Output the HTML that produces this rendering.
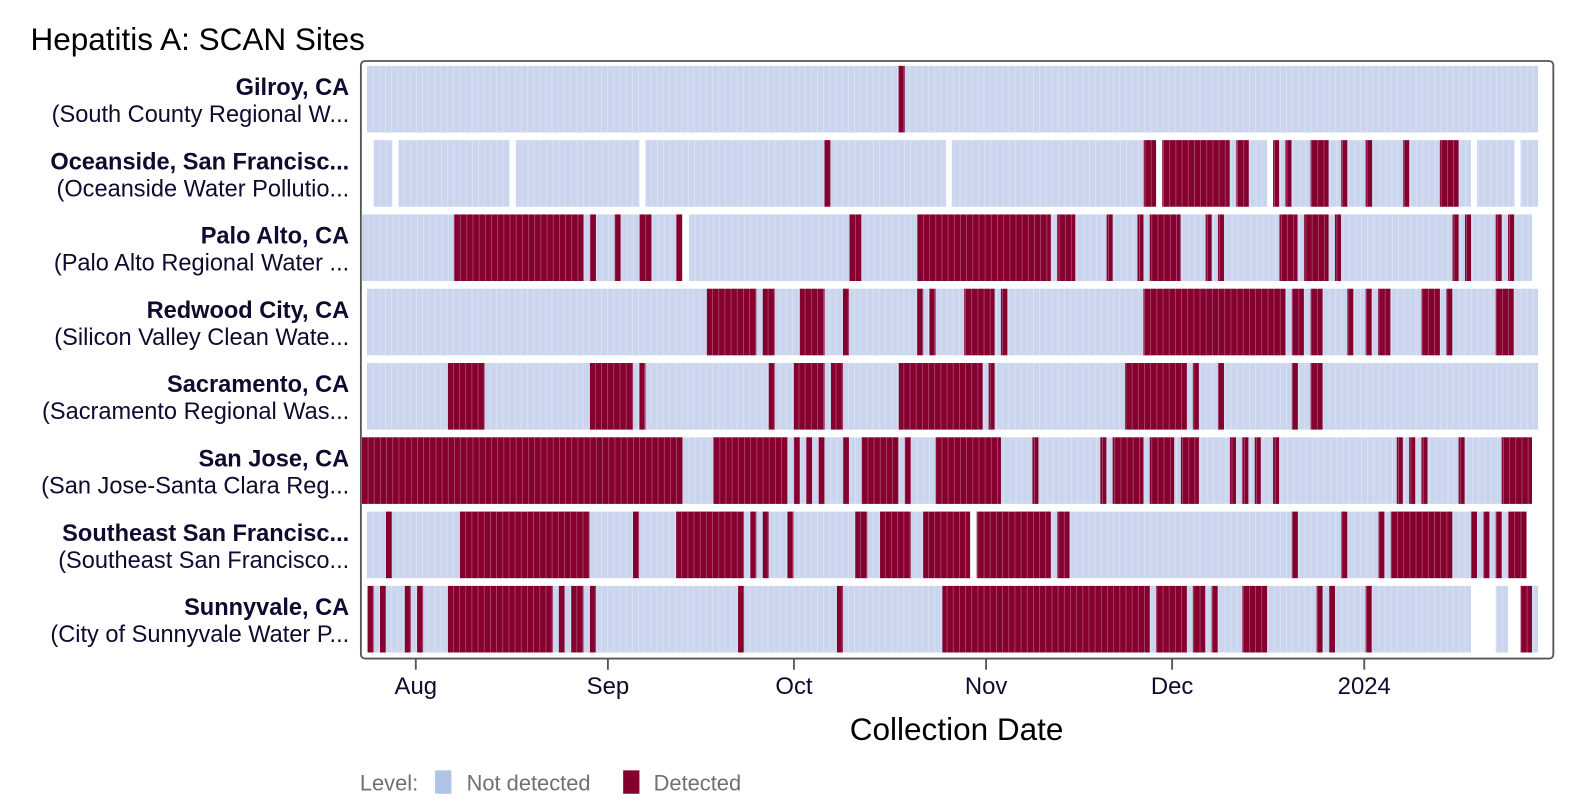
<!DOCTYPE html>
<html><head><meta charset="utf-8"><style>
html,body{margin:0;padding:0;background:#fff;}
svg{display:block;}
text{font-family:"Liberation Sans",Arial,sans-serif;}
</style></head><body>
<svg id="s" width="1594" height="810" viewBox="0 0 1568 797" preserveAspectRatio="none" xmlns="http://www.w3.org/2000/svg">
<text x="30" y="49" font-size="31" fill="#000">Hepatitis A: SCAN Sites</text>
<rect x="355" y="60" width="1173" height="588" rx="4" fill="none" stroke="#555" stroke-width="1.8"/>
<g id="cells"></g>
<g id="labels" fill="#0d0b2e" font-size="23.2" text-anchor="end"></g>
<g stroke="#555" stroke-width="1.8">
<line x1="409" y1="648" x2="409" y2="659"/><line x1="598" y1="648" x2="598" y2="659"/>
<line x1="781" y1="648" x2="781" y2="659"/><line x1="970" y1="648" x2="970" y2="659"/>
<line x1="1153" y1="648" x2="1153" y2="659"/><line x1="1342" y1="648" x2="1342" y2="659"/>
</g>
<g fill="#0d0b2e" font-size="23.5" text-anchor="middle">
<text x="409" y="683">Aug</text><text x="598" y="683">Sep</text><text x="781" y="683">Oct</text>
<text x="970" y="683">Nov</text><text x="1153" y="683">Dec</text><text x="1342" y="683">2024</text>
</g>
<text x="941" y="728" font-size="31" text-anchor="middle" fill="#000">Collection Date</text>
<text x="354" y="778" font-size="21.5" fill="#707070">Level:</text>
<rect x="428" y="758" width="16" height="23" fill="#aec3e6"/>
<text x="459" y="778" font-size="21.5" fill="#707070">Not detected</text>
<rect x="613" y="758" width="16" height="23" fill="#85002e"/>
<text x="643" y="778" font-size="21.5" fill="#707070">Detected</text>
</svg>
<script>
const rows=[
{l:[361,1513],g:[],r:[[884,890]]},
{l:[367.6,1513],g:[[386,391.9],[501.4,507.3],[629,634.9],[930.5,936.3],[1137.3,1143.2],[1246.4,1252.3],[1447,1452.9],[1489.8,1495.7]],
 r:[[811,817],[1125.1,1137.3],[1143.2,1209.6],[1216.2,1228.4],[1252.3,1258.2],[1264.5,1270.4],[1289.2,1306.9],[1319.4,1325.3],[1343.4,1349.7],[1380.3,1386.2],[1416.4,1434.8]]},
{l:[356,1507],g:[[671.4,677.6]],
 r:[[446.5,574],[580.3,586.2],[604.6,610.5],[629,640.8],[665.1,671],[835.5,847.3],[902.2,1033.7],[1040,1057.7],[1088.6,1094.5],[1118.9,1124.8],[1131,1161.3],[1186,1191.9],[1198.1,1204],[1258.6,1276.3],[1282.9,1306.9],[1313.2,1319.1],[1428.9,1434.8],[1441.1,1447],[1471.3,1477.2],[1483.5,1489.4]]},
{l:[361,1513],g:[],
 r:[[695.3,744],[750.3,762.1],[786.8,811.1],[829.2,835.1],[902.2,908.1],[914.3,920.3],[948.5,978.4],[984.6,990.9],[1124.8,1264.5],[1270.8,1282.6],[1289.2,1301],[1325.3,1331.2],[1343.4,1349.3],[1355.6,1367.7],[1398.3,1416.4],[1422.7,1428.6],[1471.3,1489]]},
{l:[361,1513],g:[],
 r:[[440.6,476.7],[580.3,622.7],[629,634.9],[756.2,762.1],[780.9,811.1],[817.4,829.2],[884.1,966.6],[972.5,978.4],[1106.7,1167.5],[1173.4,1179.3],[1198.1,1204],[1270.8,1276.7],[1289.2,1301]]},
{l:[356,1507],g:[],
 r:[[356,671.4],[701.6,774.6],[780.9,786.8],[793,798.9],[805.2,811.1],[829.2,835.1],[847.6,883.7],[890,895.9],[920.3,984.6],[1015.6,1021.5],[1082.4,1088.3],[1094.5,1124.8],[1131,1155],[1161.6,1179.3],[1209.9,1215.8],[1222.1,1228],[1234.3,1240.2],[1252.3,1258.2],[1374,1379.9],[1386.2,1392.1],[1398.3,1404.2],[1434.8,1440.7],[1477.2,1507]]},
{l:[361,1501.6],g:[[954.4,960.7]],
 r:[[379.7,385.6],[452.4,579.9],[622.7,628.6],[665.1,731.8],[738.1,744],[750.3,756.2],[774.6,780.5],[841.3,853.1],[865.7,895.9],[908.1,954.4],[960.7,1033.7],[1040,1052.1],[1270.8,1276.7],[1319.4,1325.3],[1355.9,1361.8],[1368.1,1428.6],[1447,1452.9],[1459.2,1465.1],[1471.3,1477.2],[1483.5,1501.6]]},
{l:[361,1513],g:[[1447,1471.3],[1483.5,1495.7]],
 r:[[361.7,367.6],[373.8,379.7],[398.2,404.1],[410.3,416.2],[440.6,543.8],[549.7,555.6],[561.9,574],[580.3,586.2],[726,731.9],[823.3,829.2],[927,1131],[1137.3,1167.5],[1173.4,1185.6],[1191.9,1197.8],[1222.1,1246.4],[1295.1,1301],[1307.3,1313.2],[1343.4,1349.3],[1495.7,1507]]}
];
const labels=[["Gilroy, CA","(South County Regional W..."],["Oceanside, San Francisc...","(Oceanside Water Pollutio..."],["Palo Alto, CA","(Palo Alto Regional Water ..."],["Redwood City, CA","(Silicon Valley Clean Wate..."],["Sacramento, CA","(Sacramento Regional Was..."],["San Jose, CA","(San Jose-Santa Clara Reg..."],["Southeast San Francisc...","(Southeast San Francisco..."],["Sunnyvale, CA","(City of Sunnyvale Water P..."]];
let h='',lh='';
rows.forEach((row,i)=>{
 const y=64.8+73.1*i,H=65.5;
 h+=`<rect x="${row.l[0]}" y="${y}" width="${row.l[1]-row.l[0]}" height="${H}" fill="#cbd6ee"/>`;
 row.r.forEach(s=>{h+=`<rect x="${s[0]}" y="${y}" width="${s[1]-s[0]}" height="${H}" fill="#85002e"/>`;});
 for(let x=row.l[0]+6.07;x<row.l[1]-1;x+=6.07){h+=`<line x1="${x}" y1="${y}" x2="${x}" y2="${y+H}" stroke="#fff" stroke-opacity="0.3" stroke-width="0.8"/>`;}
 row.g.forEach(s=>{h+=`<rect x="${s[0]}" y="${y-1}" width="${s[1]-s[0]}" height="${H+2}" fill="#fff"/>`;});
 const c=y+H/2;
 lh+=`<text x="343.5" y="${c-4}" font-weight="bold">${labels[i][0]}</text><text x="343.5" y="${c+22.5}">${labels[i][1]}</text>`;
});
document.getElementById('cells').innerHTML=h;
document.getElementById('labels').innerHTML=lh;
</script>
</body></html>
